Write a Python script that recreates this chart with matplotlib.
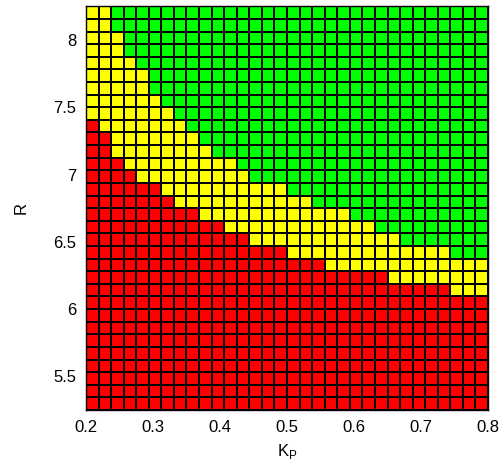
import numpy as np
import matplotlib
matplotlib.use("Agg")
import matplotlib.pyplot as plt
from matplotlib.colors import ListedColormap

plt.rcParams['font.family'] = ['Liberation Sans', 'DejaVu Sans']

# Grid extents (parameter ranges)
kp_range = (0.2, 0.8)
r_range = (5.25, 8.25)
n_cols = 32
n_rows = 32

# Per row (from bottom R to top R): number of red (unstable) cells from the left,
# and column index where green (stable) cells begin; yellow in between.
red_count = [32, 32, 32, 32, 32, 32, 32, 32, 32,
             29, 24, 19, 16, 13, 11, 9, 7, 6, 4, 3, 2, 2, 1,
             0, 0, 0, 0, 0, 0, 0, 0, 0]
green_from = [32, 32, 32, 32, 32, 32, 32, 32, 32,
              32, 32, 32, 29, 25, 23, 21, 18, 16, 13, 12, 10, 9, 8,
              7, 6, 5, 5, 4, 3, 3, 2, 2]

status_colors = ['#ff0000', '#ffff00', '#00ff00']
xticks = [0.2, 0.3, 0.4, 0.5, 0.6, 0.7, 0.8]
yticks = [5.5, 6, 6.5, 7, 7.5, 8]

grid = np.ones((n_rows, n_cols), dtype=int)
cols = np.arange(n_cols)
for i in range(n_rows):
    grid[i, cols < red_count[i]] = 0
    grid[i, cols >= green_from[i]] = 2

xe = np.linspace(kp_range[0], kp_range[1], n_cols + 1)
ye = np.linspace(r_range[0], r_range[1], n_rows + 1)

fig = plt.figure(figsize=(5.01, 4.62), dpi=100)
ax = fig.add_axes([86 / 501, 52 / 462, 402 / 501, 403.7 / 462])
ax.pcolormesh(xe, ye, grid, cmap=ListedColormap(status_colors), vmin=-0.5, vmax=2.5,
              edgecolors='black', linewidth=1.1)
ax.set_xlim(*kp_range)
ax.set_ylim(*r_range)
ax.set_xticks(xticks)
ax.set_xticklabels([f"{v:g}" for v in xticks])
ax.set_yticks(yticks)
ax.set_yticklabels([f"{v:g}" for v in yticks])
ax.tick_params(length=0, labelsize=12, pad=7)
ax.set_xlabel(r'K$_\mathregular{P}$', fontsize=12, labelpad=5)
ax.set_ylabel('R', fontsize=12, labelpad=18)
for s in ax.spines.values():
    s.set_linewidth(1.0)

fig.savefig('out.png', dpi=100)
